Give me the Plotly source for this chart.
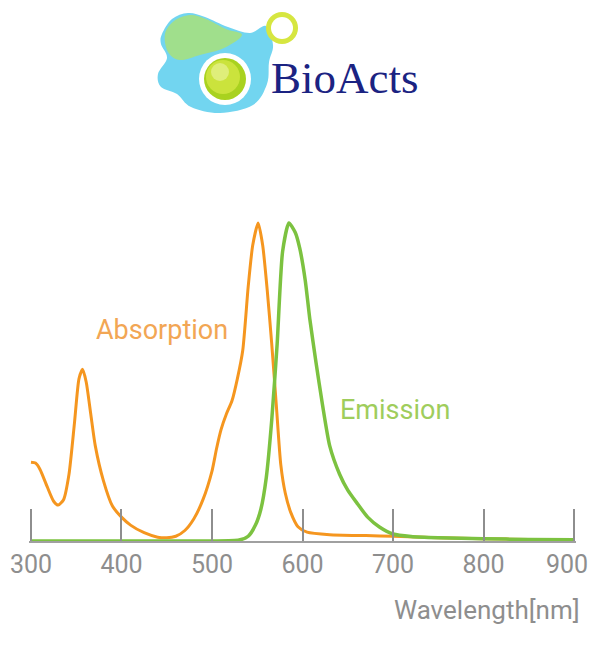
import plotly.graph_objects as go

# ---------------------------------------------------------------------------
# Spectra (normalised intensity)
# ---------------------------------------------------------------------------
WL_ABS = [300, 305, 310, 318, 325, 330, 336, 342, 348, 353, 357, 361, 366, 371,
          380, 390, 400, 410, 425, 440, 450, 460, 470, 480, 490, 500, 505, 510,
          516, 522, 528, 534, 540, 545, 551, 556, 561, 566, 571, 576, 581, 587,
          595, 605, 630, 670, 700, 750, 800, 850, 900]
ABSORPTION = [0.248, 0.245, 0.225, 0.17, 0.125, 0.113, 0.13, 0.21, 0.37, 0.51,
              0.54, 0.50, 0.40, 0.30, 0.19, 0.11, 0.075, 0.05, 0.026, 0.012,
              0.01, 0.015, 0.033, 0.07, 0.13, 0.22, 0.29, 0.35, 0.40, 0.44,
              0.51, 0.60, 0.80, 0.93, 1.0, 0.93, 0.79, 0.62, 0.43, 0.24, 0.15,
              0.09, 0.045, 0.028, 0.02, 0.017, 0.015, 0.01, 0.007, 0.005, 0.004]

WL_EM = [300, 400, 500, 530, 540, 548, 554, 560, 566, 572, 578, 585, 592, 597,
         603, 608, 615, 622, 630, 641, 650, 660, 672, 685, 700, 720, 750, 800,
         850, 900]
EMISSION = [0, 0, 0, 0.003, 0.015, 0.05, 0.1, 0.2, 0.38, 0.62, 0.91, 1.0, 0.97,
            0.92, 0.82, 0.70, 0.56, 0.43, 0.30, 0.21, 0.16, 0.12, 0.075, 0.044,
            0.022, 0.014, 0.01, 0.007, 0.005, 0.004]

TICKS = [300, 400, 500, 600, 700, 800, 900]
# the last label sits at the page edge, so it is drawn as a nudged annotation
TICK_TEXT = [str(t) for t in TICKS[:-1]] + [""]

COLOR_ABS = "#f5961f"
COLOR_EM = "#7cc240"
COLOR_AXIS = "#8e8e8e"
TICK_FONT = dict(family="Roboto", size=25, color=COLOR_AXIS)

# figure geometry (pixels); x range padded a little so end ticks are drawn
W, H = 589, 645
ML, MR, MT, MB = 29, 13, 200, 104
PW, PH = W - ML - MR, H - MT - MB
X_RANGE = [297.8, 902.2]


def px(x, y):
    """pixel position -> paper coords"""
    return (x - ML) / PW, (H - MB - y) / PH


def smooth_path(points):
    """closed Catmull-Rom path through pixel points, in paper coords"""
    n = len(points)
    pts = [px(*p) for p in points]
    d = "M %.4f,%.4f" % pts[0]
    for i in range(n):
        p0, p1, p2, p3 = pts[i - 1], pts[i], pts[(i + 1) % n], pts[(i + 2) % n]
        c1 = (p1[0] + (p2[0] - p0[0]) / 6, p1[1] + (p2[1] - p0[1]) / 6)
        c2 = (p2[0] - (p3[0] - p1[0]) / 6, p2[1] - (p3[1] - p1[1]) / 6)
        d += " C %.4f,%.4f %.4f,%.4f %.4f,%.4f" % (c1 + c2 + p2)
    return d + " Z"


def circle(cx, cy, r, color, opacity=1):
    x0, y0 = px(cx - r, cy + r)
    x1, y1 = px(cx + r, cy - r)
    return dict(type="circle", xref="paper", yref="paper", x0=x0, y0=y0,
                x1=x1, y1=y1, fillcolor=color, line_width=0, opacity=opacity)


fig = go.Figure()

fig.add_trace(go.Scatter(
    x=WL_ABS, y=ABSORPTION, mode="lines", name="Absorption",
    line=dict(color=COLOR_ABS, width=3, shape="spline", smoothing=0.6),
))
fig.add_trace(go.Scatter(
    x=WL_EM, y=EMISSION, mode="lines", name="Emission",
    line=dict(color=COLOR_EM, width=3.5, shape="spline", smoothing=0.6),
))

# --- logo ---
blob = [(162, 34), (172, 19), (188, 13), (205, 17), (228, 27), (250, 33),
        (266, 26), (273, 45), (269, 62), (267, 84), (253, 105), (220, 113),
        (191, 107), (177, 94), (161, 87), (158, 74), (167, 58), (161, 44)]
green_part = [(165, 34), (174, 21), (190, 15), (206, 19), (226, 29), (242, 35),
              (224, 48), (200, 55), (180, 60), (168, 52)]
shapes = [
    dict(type="path", xref="paper", yref="paper", path=smooth_path(blob),
         fillcolor="#72d5f0", line_width=0),
    dict(type="path", xref="paper", yref="paper", path=smooth_path(green_part),
         fillcolor="#a8e07a", line_width=0, opacity=0.85),
    circle(282, 28, 16, "#d6e640"),
    circle(282, 28, 11, "white"),
    circle(225, 79, 26, "white"),
    circle(225, 79, 21, "#a9d21f"),
    circle(223, 77, 17, "#cbe33c"),
    circle(220, 72, 9, "#e4f08a", 0.8),
]

annotations = [
    dict(text="BioActs", x=px(345, 78)[0], y=px(345, 78)[1],
         font=dict(family="Liberation Serif", size=45, color="#1b2382")),
    dict(text="Absorption", x=px(162, 330)[0], y=px(162, 330)[1],
         font=dict(family="Roboto", size=27, color="#f2a654")),
    dict(text="Emission", x=px(395, 410)[0], y=px(395, 410)[1],
         font=dict(family="Roboto", size=27, color="#9fcd5c")),
    dict(text="Wavelength[nm]", x=px(487, 610)[0], y=px(487, 610)[1],
         font=dict(family="Roboto", size=26, color=COLOR_AXIS)),
]
for a in annotations:
    a.update(xref="paper", yref="paper", showarrow=False,
             xanchor="center", yanchor="middle")
# last tick label, anchored to the axis value and pulled in from the edge
annotations.append(dict(
    text=str(TICKS[-1]), xref="x", x=TICKS[-1], xshift=-7,
    yref="paper", y=px(0, 564)[1], showarrow=False,
    xanchor="center", yanchor="middle", font=TICK_FONT,
))

fig.update_layout(
    width=W, height=H,
    paper_bgcolor="white", plot_bgcolor="white",
    margin=dict(l=ML, r=MR, t=MT, b=MB, autoexpand=False),
    showlegend=False,
    shapes=shapes,
    annotations=annotations,
)
fig.update_xaxes(
    range=X_RANGE, tickvals=TICKS, ticktext=TICK_TEXT, ticks="inside",
    ticklen=32, tickwidth=1.5, tickcolor=COLOR_AXIS, showline=True,
    linecolor="#a0a0a0", linewidth=1.5, showgrid=False, zeroline=False,
    automargin=False, tickfont=TICK_FONT,
)
fig.update_yaxes(range=[0, PH / 318], visible=False)

# page body has a default 8px margin; drop it so the figure fills the window
fig.write_html(
    "out.html",
    config={"displayModeBar": False},
    post_script="document.body.style.margin='0';document.body.style.overflow='hidden';",
)
